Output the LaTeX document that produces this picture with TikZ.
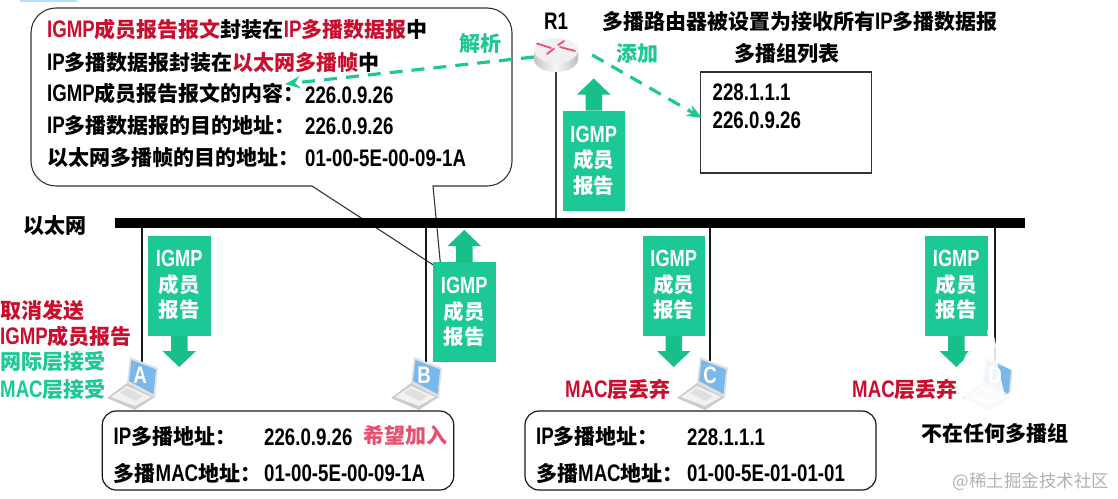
\documentclass[tikz,border=0pt]{standalone}
\usepackage{fontspec}
\usetikzlibrary{arrows.meta,calc,shapes.geometric}
\setmainfont{Liberation Sans}[FakeStretch=0.78,Scale=1.14]
\newfontfamily\zhfont{Noto Sans CJK SC}
\newcommand{\Z}[1]{{\zhfont #1}}
\definecolor{gr}{HTML}{1CC896}
\definecolor{grd}{HTML}{18BF8B}
\definecolor{rd}{HTML}{C8102E}
\definecolor{pk}{HTML}{E8506F}
\definecolor{scr}{HTML}{78B8EA}
\tikzset{
  txt/.style={inner sep=0pt,anchor=west,text height=17pt,text depth=1pt,font=\fontsize{21}{25}\selectfont\bfseries},
  ctr/.style={txt,anchor=center},
  lbl/.style={inner sep=0pt,align=center,text=white,font=\fontsize{20.5}{25.5}\selectfont\bfseries},
  wire/.style={draw=black!90,line width=2pt},
  thin box/.style={draw=black!80,line width=1.1pt},
  green dash/.style={draw=gr,line width=3.2pt,dash pattern=on 13pt off 9pt,-{Stealth[length=15pt,width=12pt]}}
}
% name, rect left, rect top
\newcommand{\dnarrow}[3]{%
  \fill[gr] (#2,#3) rectangle ++(62.5,100);
  \fill[grd] ($(#2,#3)+(23,100)$) -- ++(16.5,0) -- ++(0,15) -- ++(8.5,0) -- ++(-16.75,16) -- ++(-16.75,-16) -- ++(8.5,0) -- cycle;
  \node[lbl] (#1) at ($(#2,#3)+(31.25,49)$) {IGMP\\\Z{成员}\\\Z{报告}};}
\newcommand{\uparrowbox}[3]{%
  \fill[gr] (#2,#3) rectangle ++(62.5,100);
  \fill[grd] ($(#2,#3)+(23,0)$) -- ++(16.5,0) -- ++(0,-16) -- ++(8.5,0) -- ++(-16.75,-16) -- ++(-16.75,16) -- ++(8.5,0) -- cycle;
  \node[lbl] (#1) at ($(#2,#3)+(31.25,50)$) {IGMP\\\Z{成员}\\\Z{报告}};}
% name, x offset, letter
\newcommand{\laptop}[3]{%
  \begin{scope}[shift={(#2,0)}]
    \fill[black!20] (107,398) -- (127,383) -- (155,397) -- (135,410) -- cycle;
    \fill[black!5] (111,397) -- (127,386) -- (151,397) -- (135,406) -- cycle;
    \fill[black!12] (120,393) -- (127,388) -- (143,396) -- (136,401) -- cycle;
    \fill[black!12] (130,357) -- (158,368) -- (155,398) -- (127,383) -- cycle;
    \fill[scr] (131.5,360) -- (156,369.5) -- (153.5,394) -- (129,381) -- cycle;
    \node[inner sep=0pt,text=white,font=\fontsize{21}{24}\selectfont\bfseries] (#1) at (140,375.5) {#3};
  \end{scope}}
\begin{document}
\begin{tikzpicture}[x=1pt,y=-1pt]
\useasboundingbox (0,0) rectangle (1118,498);
\fill[white] (0,0) rectangle (1118,498);
\fill[blue!40!cyan!30] (20,0) rectangle (77,1.5);

% callout
\draw[thin box] (56,8) -- (487,8) arc[start angle=-90,end angle=0,radius=25] -- (512,161) arc[start angle=0,end angle=90,radius=25]
  -- (433,186) -- (441,270) -- (312,186) -- (56,186) arc[start angle=90,end angle=180,radius=25] -- (31,33) arc[start angle=180,end angle=270,radius=25] -- cycle;
\node[txt] (l1) at (47,29) {\textcolor{rd}{IGMP\Z{成员报告报文}}\Z{封装在}\textcolor{rd}{IP\Z{多播数据报}}\Z{中}};
\node[txt] (l2) at (47,62) {IP\Z{多播数据报封装在}\textcolor{rd}{\Z{以太网多播帧}}\Z{中}};
\node[txt] (l3) at (47,93) {IGMP\Z{成员报告报文的内容：}};
\node[txt] (l4) at (47,125) {IP\Z{多播数据报的目的地址：}};
\node[txt] (l5) at (47,157) {\Z{以太网多播帧的目的地址：}};
\node[txt] (v3) at (305,95) {226.0.9.26};
\node[txt] (v4) at (305,126) {226.0.9.26};
\node[txt] (v5) at (305,158) {01-00-5E-00-09-1A};

% green arrows
\dnarrow{ga}{148}{236}
\uparrowbox{gb}{433}{262}
\uparrowbox{gr1}{562.5}{110.5}
\dnarrow{gc}{642.5}{236}
\dnarrow{gd}{925}{236}

% bus and drops
\node[fill=black,inner sep=0pt,minimum width=910pt,minimum height=10.5pt] (bus) at (570,223) {};
\node[ctr] (eth) at (55,225) {\Z{以太网}};
\coordinate (ha) at (142,362);
\coordinate (hb) at (426,362);
\coordinate (hc) at (710,362);
\coordinate (hd) at (994.5,362);
\foreach \h in {ha,hb,hc,hd} \draw[wire] (\h) -- (\h |- bus.south);

% router
\node[inner sep=0pt,minimum width=44pt,minimum height=34pt] (r1) at (556,55) {};
\draw[wire,draw=black!75] (r1.south) -- (r1.south |- bus.north);
\path[left color=black!22,right color=black!25,middle color=black!3] (534,50.5) -- (534,59.5) arc[start angle=180,end angle=0,x radius=22,y radius=12.5] -- (578,50.5) -- cycle;
\fill[black!6] (556,50.5) ellipse[x radius=22,y radius=12.5];
\begin{scope}[draw=pk,line width=1.8pt,line cap=round]
  \draw (537,43.5) -- (551,48);
  \draw (547,54) -- (554,48.5);
  \draw (564,41) -- (558,45);
  \draw (560,47) -- (575,51);
\end{scope}
\node[ctr] (r1t) at (556,21) {R1};

% top right
\node[ctr] (title) at (800,21) {\Z{多播路由器被设置为接收所有}IP\Z{多播数据报}};
\node[ctr] (lt) at (787,53) {\Z{多播组列表}};
\node[thin box,inner sep=0pt,minimum width=171pt,minimum height=101pt] (list) at (786,122.5) {};
\node[txt] (la) at (712.5,92) {228.1.1.1};
\node[txt] (lb) at (712.5,120) {226.0.9.26};

% dashed
\coordinate (t1) at (285,84);
\coordinate (t2) at (702,118);
\draw[green dash] (r1.west) ++(0,2) -- (t1);
\draw[green dash] ($(r1.east)+(14,0)$) -- (t2);
\node[ctr,text=gr] (jx) at (480,43) {\Z{解析}};
\node[ctr,text=gr] (tj) at (637.5,53) {\Z{添加}};

% left labels
\node[txt,text=rd] (c1) at (0,310) {\Z{取消发送}};
\node[txt,text=rd] (c2) at (0,336) {IGMP\Z{成员报告}};
\node[txt,text=gr] (c3) at (0,361) {\Z{网际层接受}};
\node[txt,text=gr] (c4) at (0,389) {MAC\Z{层接受}};

% hosts
\laptop{pa}{0}{A}
\laptop{pb}{284}{B}
\laptop{pc}{570}{C}
\laptop{pd}{855}{D}

% boxes
\node[draw=black!90,line width=1.2pt,rounded corners=14pt,inner sep=0pt,minimum width=351.5pt,minimum height=79pt] (bx1) at (278,450.5) {};
\node[draw=black!90,line width=1.2pt,rounded corners=14pt,inner sep=0pt,minimum width=351pt,minimum height=79pt] (bx2) at (700.5,450.5) {};
\node[txt] (b11) at (113.5,436) {IP\Z{多播地址：}};
\node[txt] (b12) at (113.5,473) {\Z{多播}MAC\Z{地址：}};
\node[txt] (b13) at (264,437) {226.0.9.26};
\node[txt] (b14) at (264,473) {01-00-5E-00-09-1A};
\node[txt,text=pk] (b15) at (363,435) {\Z{希望加入}};
\node[txt] (b21) at (536,436) {IP\Z{多播地址：}};
\node[txt] (b22) at (536,473) {\Z{多播}MAC\Z{地址：}};
\node[txt] (b23) at (687,437) {228.1.1.1};
\node[txt] (b24) at (687,473) {01-00-5E-01-01-01};

\node[txt,text=rd] (mc) at (565,389) {MAC\Z{层丢弃}};
\node[txt,text=rd] (md) at (852,389) {MAC\Z{层丢弃}};

% watermark icon
\fill[white,opacity=.88,even odd rule] (983,345) -- (1035,345) arc[start angle=-90,end angle=0,radius=20] -- (1055,395) arc[start angle=0,end angle=90,radius=20] -- (983,415) arc[start angle=90,end angle=180,radius=20] -- (963,365) arc[start angle=180,end angle=270,radius=20] -- cycle
  (997,362) -- (1027,379) -- (1005,396) -- cycle;
\draw[white,opacity=.9,line width=6pt,line cap=round] (993,345) -- (990,332);
\draw[white,opacity=.9,line width=6pt,line cap=round] (1018,345) -- (1030,331);

\node[ctr] (nm) at (995,433) {\Z{不在任何多播组}};
\node[inner sep=0pt,text=black!30,font=\fontsize{17.5}{20}\selectfont] (wm) at (1031,482) {\Z{@稀土掘金技术社区}};
\end{tikzpicture}
\end{document}
